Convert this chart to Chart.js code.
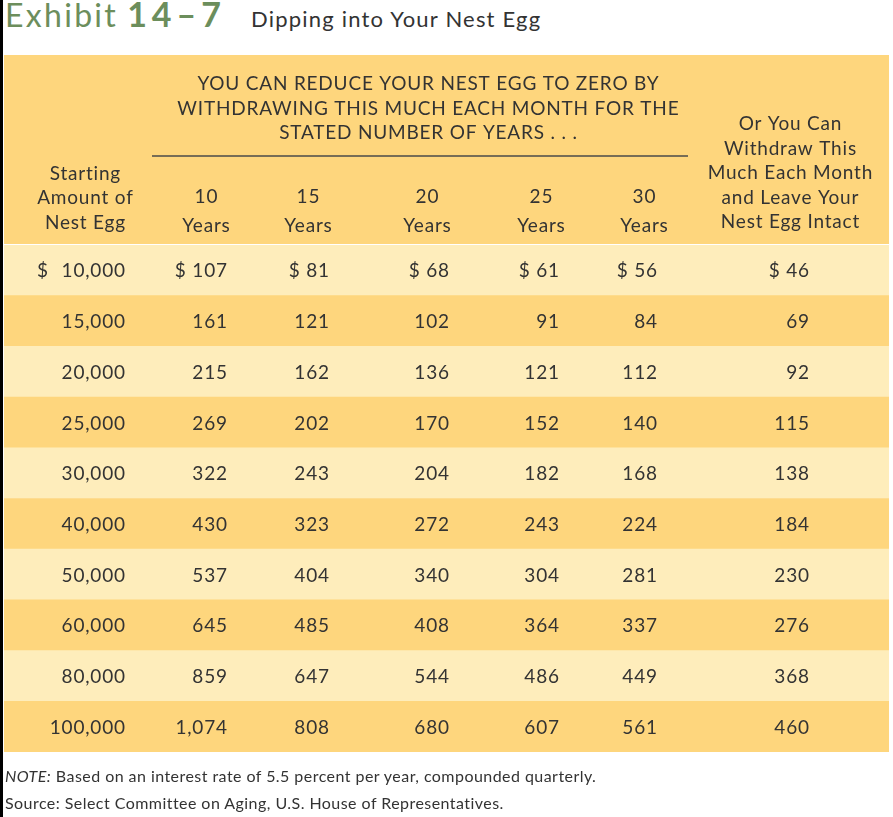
<!DOCTYPE html>
<html>
<head>
<meta charset="utf-8">
<script src="https://cdn.jsdelivr.net/npm/chart.js@4"></script>
<style>
  html, body { margin: 0; padding: 0; background: #fff; }
  body { width: 893px; height: 817px; position: relative; overflow: hidden; font-family: Lato, "Open Sans", sans-serif; color: #333; }
  #edge { position: absolute; left: 0; top: 0; width: 3px; height: 817px; background: #000; }
  #title { position: absolute; left: 5px; top: -7px; white-space: nowrap; }
  #title .ex { font-size: 32px; color: #6c8e5c; font-weight: 400; letter-spacing: 2.3px; }
  #title .num { font-size: 34px; color: #6c8e5c; font-weight: 700; letter-spacing: 5px; margin-left: 9px; }
  #title .name { font-size: 22px; color: #333; margin-left: 25px; letter-spacing: 1.2px; }
  #chart { position: absolute; left: 0; top: 0; }
  .note { position: absolute; left: 5px; font-size: 16px; color: #333; white-space: nowrap; letter-spacing: 0.45px; }
</style>
</head>
<body>
<div id="edge"></div>
<div id="title"><span class="ex">Exhibit</span><span class="num">14–7</span><span class="name">Dipping into Your Nest Egg</span></div>
<canvas id="chart" width="893" height="817"></canvas>
<div class="note" style="top:766px"><i>NOTE:</i> Based on an interest rate of 5.5 percent per year, compounded quarterly.</div>
<div class="note" style="top:793px">Source: Select Committee on Aging, U.S. House of Representatives.</div>
<script>
// starting nest egg amounts (rows)
const startAmounts = [10000, 15000, 20000, 25000, 30000, 40000, 50000, 60000, 80000, 100000];
const yearLabels = ['10', '15', '20', '25', '30'];
// monthly withdrawal to reach zero after N years
const pay10 = [107, 161, 215, 269, 322, 430, 537, 645, 859, 1074];
const pay15 = [81, 121, 162, 202, 243, 323, 404, 485, 647, 808];
const pay20 = [68, 102, 136, 170, 204, 272, 340, 408, 544, 680];
const pay25 = [61, 91, 121, 152, 182, 243, 304, 364, 486, 607];
const pay30 = [56, 84, 112, 140, 168, 224, 281, 337, 449, 561];
// withdrawal that leaves the nest egg intact
const intact = [46, 69, 92, 115, 138, 184, 230, 276, 368, 460];

const groupTitle = ['YOU CAN REDUCE YOUR NEST EGG TO ZERO BY', 'WITHDRAWING THIS MUCH EACH MONTH FOR THE', 'STATED NUMBER OF YEARS . . .'];
const leftHead = ['Starting', 'Amount of', 'Nest Egg'];
const rightHead = ['Or You Can', 'Withdraw This', 'Much Each Month', 'and Leave Your', 'Nest Egg Intact'];

const columns = [pay10, pay15, pay20, pay25, pay30, intact];

// layout (table x units = px from table left edge)
const TABLE_W = 885;
const colRight = [223, 325, 445, 555, 653, 805];
const colCenter = [202, 304, 423, 537, 640, 786];
const amountRight = 121;
const DARK = '#fed67d';
const LIGHT = '#feedbb';
const INK = '#333333';
const FONT = 'Lato, "Open Sans", sans-serif';
const SP = 0.8; // letter spacing

const fmt = v => v.toLocaleString('en-US');

const tablePlugin = {
  id: 'tableText',
  beforeDatasetsDraw(chart) {
    const { ctx, chartArea, scales } = chart;
    const x = scales.x;
    const top = chartArea.top;
    ctx.save();
    ctx.fillStyle = DARK;
    ctx.fillRect(chartArea.left, 55, chartArea.right - chartArea.left, top - 56);
    ctx.fillStyle = INK;
    ctx.textBaseline = 'middle';
    ctx.textAlign = 'center';
    ctx.font = '19px ' + FONT;
    ctx.letterSpacing = SP + 'px';
    const cx = v => x.getPixelForValue(v) + SP / 2;
    groupTitle.forEach((t, i) => ctx.fillText(t, cx(424), top - 161 + i * 24.5));
    leftHead.forEach((t, i) => ctx.fillText(t, cx(81), top - 71 + i * 24.3));
    rightHead.forEach((t, i) => ctx.fillText(t, cx(786), top - 121 + i * 24.5));
    yearLabels.forEach((t, i) => {
      ctx.fillText(t, cx(colCenter[i]), top - 48);
      ctx.fillText('Years', cx(colCenter[i]), top - 19);
    });
    ctx.strokeStyle = '#4a4a4a';
    ctx.lineWidth = 1.5;
    ctx.beginPath();
    ctx.moveTo(x.getPixelForValue(148), top - 89);
    ctx.lineTo(x.getPixelForValue(684), top - 89);
    ctx.stroke();
    ctx.restore();
  },
  afterDatasetsDraw(chart) {
    const { ctx, scales } = chart;
    const x = scales.x, y = scales.y;
    const rx = v => x.getPixelForValue(v) + SP;
    ctx.save();
    ctx.fillStyle = INK;
    ctx.textBaseline = 'middle';
    ctx.font = '19px ' + FONT;
    ctx.letterSpacing = SP + 'px';
    startAmounts.forEach((amt, r) => {
      const py = y.getPixelForValue(r) + 1;
      const pre = r === 0 ? '$ ' : '';
      ctx.textAlign = 'right';
      ctx.fillText(fmt(amt), rx(amountRight), py);
      if (r === 0) {
        ctx.textAlign = 'left';
        ctx.fillText('$', x.getPixelForValue(33), py);
        ctx.textAlign = 'right';
      }
      columns.forEach((col, c) => {
        ctx.fillText(pre + fmt(col[r]), rx(colRight[c]), py);
      });
    });
    ctx.restore();
  }
};

new Chart(document.getElementById('chart'), {
  type: 'bar',
  data: {
    labels: startAmounts.map(fmt),
    datasets: [{
      label: 'rows',
      data: startAmounts.map(() => [0, TABLE_W]),
      backgroundColor: startAmounts.map((_, i) => i % 2 === 0 ? LIGHT : DARK),
      borderWidth: 0,
      barPercentage: 1,
      categoryPercentage: 1
    }]
  },
  options: {
    indexAxis: 'y',
    responsive: false,
    animation: false,
    layout: { padding: { top: 245, bottom: 65, left: 4, right: 4 } },
    plugins: { legend: { display: false }, tooltip: { enabled: false } },
    scales: {
      x: { type: 'linear', min: 0, max: TABLE_W, display: false },
      y: { type: 'category', display: false }
    }
  },
  plugins: [tablePlugin]
});
</script>
</body>
</html>
